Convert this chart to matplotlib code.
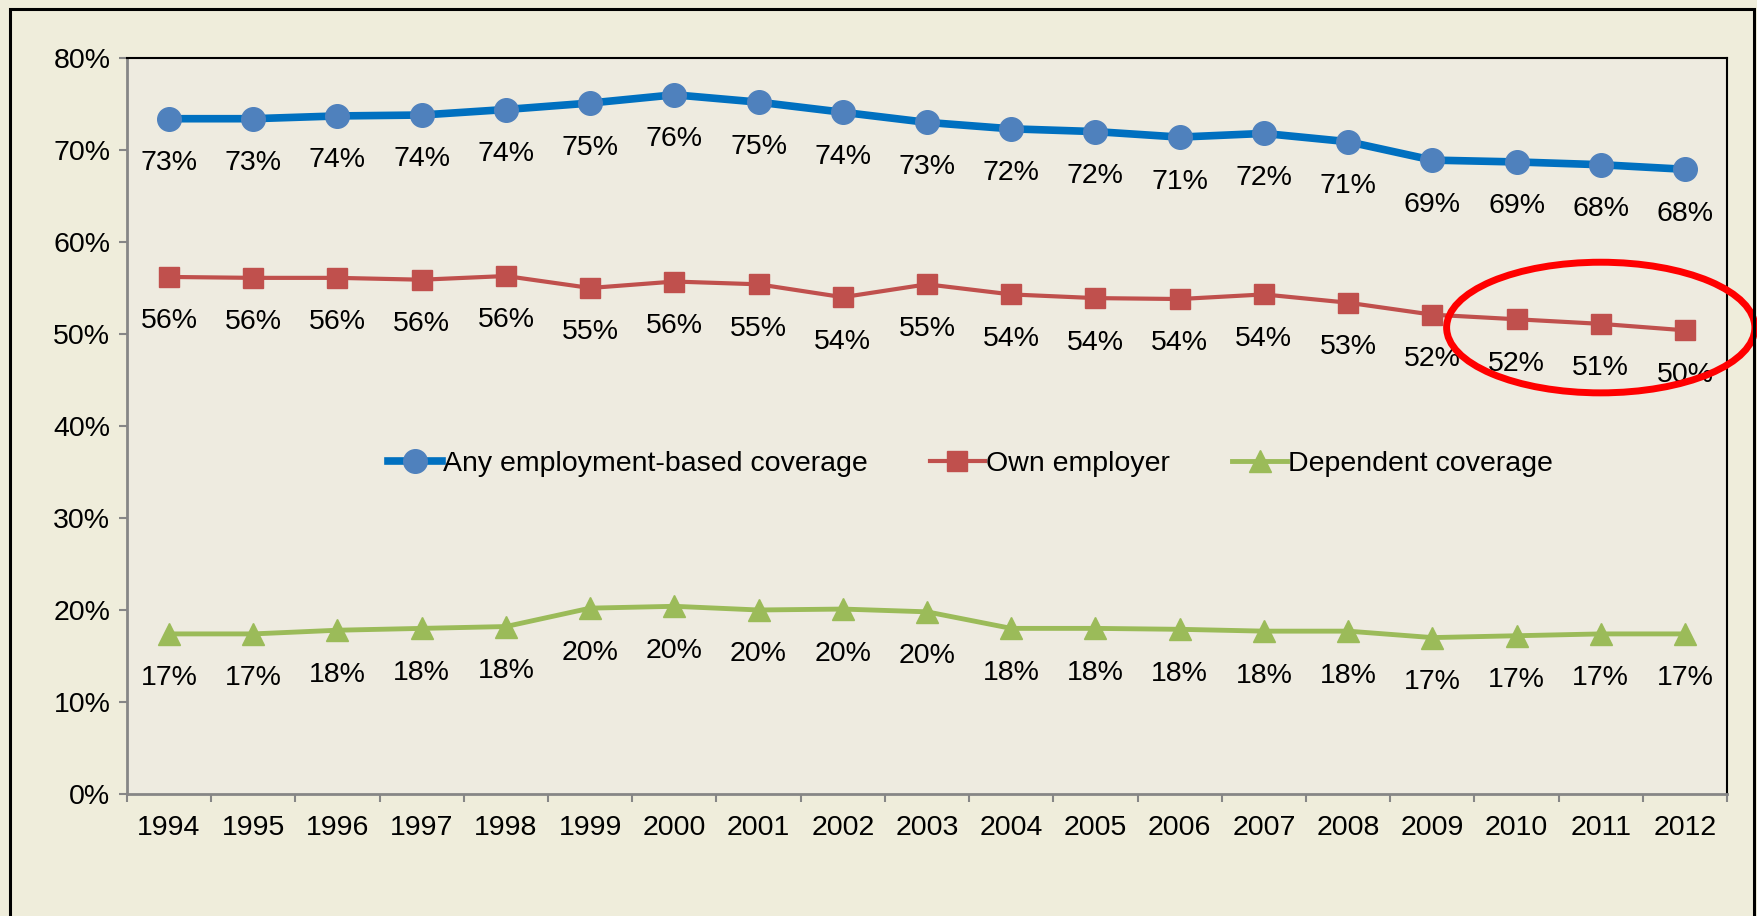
import numpy as np
import matplotlib
matplotlib.use('Agg')
import matplotlib.pyplot as plt
from matplotlib.patches import Ellipse, Rectangle

plt.rcParams['font.family'] = ['Liberation Sans', 'DejaVu Sans']

years = [str(y) for y in range(1994, 2013)]
any_cov = [73.4, 73.4, 73.7, 73.8, 74.4, 75.1, 76.0, 75.2, 74.1, 73.0,
           72.3, 72.0, 71.4, 71.8, 70.9, 68.9, 68.7, 68.4, 67.9]
own_emp = [56.2, 56.1, 56.1, 55.9, 56.3, 55.0, 55.7, 55.4, 54.0, 55.4,
           54.3, 53.9, 53.8, 54.3, 53.4, 52.1, 51.6, 51.1, 50.4]
dep_cov = [17.4, 17.4, 17.8, 18.0, 18.2, 20.2, 20.4, 20.0, 20.1, 19.8,
           18.0, 18.0, 17.9, 17.7, 17.7, 17.0, 17.2, 17.4, 17.4]
names = ['Any employment-based coverage', 'Own employer', 'Dependent coverage']

fig = plt.figure(figsize=(17.58, 9.16), dpi=100)
fig.patch.set_facecolor('#EFEDDB')
ax = fig.add_axes([0.0722, 0.1332, 0.9102, 0.8035])
ax.set_facecolor('#EEEBE0')

# outer frame
fig.patches.append(Rectangle((0.0055, -0.1), 0.9925, 1.0902, transform=fig.transFigure,
                             fill=False, edgecolor='black', linewidth=2.2))

x = np.arange(len(years)) + 0.5
styles = [
    dict(color='#0070C0', marker='o', markerfacecolor='#4F81BD', markeredgecolor='#4F81BD',
         markersize=17, linewidth=5.5),
    dict(color='#C0504D', marker='s', markerfacecolor='#C0504D', markeredgecolor='#C0504D',
         markersize=14, linewidth=3),
    dict(color='#9BBB59', marker='^', markerfacecolor='#9BBB59', markeredgecolor='#9BBB59',
         markersize=16, linewidth=3.5),
]
for vals, name, st in zip([any_cov, own_emp, dep_cov], names, styles):
    ax.plot(x, vals, label=name, clip_on=False, zorder=3, **st)
    for xi, v in zip(x, vals):
        ax.annotate('%d%%' % round(v), (xi, v), xytext=(0, -32), textcoords='offset points',
                    ha='center', va='center', fontsize=20.5)

ax.set_xlim(0, len(years))
ax.set_ylim(0, 80)
ax.set_yticks(range(0, 81, 10))
ax.set_yticklabels(['%d%%' % v for v in range(0, 81, 10)], fontsize=20.5)
ax.set_xticks(np.arange(len(years) + 1))
ax.set_xticklabels([])
ax.set_xticks(x, minor=True)
ax.set_xticklabels(years, minor=True, fontsize=20.5)
ax.tick_params(axis='x', which='minor', length=0, pad=15)
ax.tick_params(axis='x', which='major', length=6, width=1.5, color='#868686')
ax.tick_params(axis='y', length=6, width=1.5, color='#868686', pad=6)

for s in ['left', 'bottom']:
    ax.spines[s].set_color('#868686')
    ax.spines[s].set_linewidth(2)
for s in ['top', 'right']:
    ax.spines[s].set_color('black')
    ax.spines[s].set_linewidth(1.5)

leg = ax.legend(loc='center', bbox_to_anchor=(0.527, 0.448), ncol=3, frameon=False,
                fontsize=20.5, handlelength=1.9, handletextpad=0.05, columnspacing=2.2)

ax.add_patch(Ellipse((17.5, 50.7), 3.66, 14.2, fill=False, edgecolor='#FF0000',
                     linewidth=5, clip_on=False, zorder=5))

fig.savefig('out.png', dpi=100, facecolor=fig.get_facecolor())
